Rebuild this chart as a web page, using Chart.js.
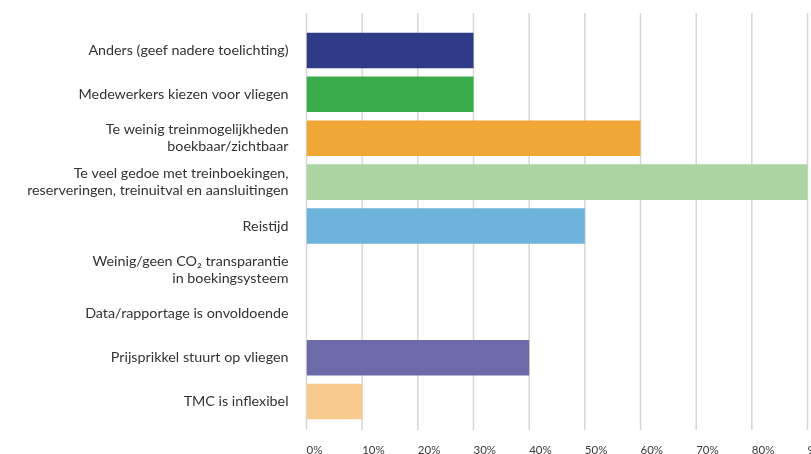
<!DOCTYPE html>
<html>
<head>
<meta charset="utf-8">
<script src="https://cdn.jsdelivr.net/npm/chart.js@4.4.1/dist/chart.umd.min.js"></script>
<style>
  html, body { margin: 0; padding: 0; background: #fff; overflow: hidden; }
  #wrap { width: 900px; height: 454px; }
</style>
</head>
<body>
<div id="wrap"><canvas id="myChart" width="900" height="454"></canvas></div>
<script>
// categories (multi-line labels as arrays)
var categories = [
  'Anders (geef nadere toelichting)',
  'Medewerkers kiezen voor vliegen',
  ['Te weinig treinmogelijkheden', 'boekbaar/zichtbaar'],
  ['Te veel gedoe met treinboekingen,', 'reserveringen, treinuitval en aansluitingen'],
  'Reistijd',
  ['Weinig/geen CO\u2082 transparantie', 'in boekingsysteem'],
  'Data/rapportage is onvoldoende',
  'Prijsprikkel stuurt op vliegen',
  'TMC is inflexibel'
];
var percentages = [30, 30, 60, 90, 50, 0, 0, 40, 10];
var barColors = ['#2f3b86', '#3aab4b', '#f0a735', '#acd4a2', '#6db3dc', '#6c6aa8', '#6c6aa8', '#6c6aa8', '#f7ca8d'];
var tickValues = [0, 10, 20, 30, 40, 50, 60, 70, 80, 90, 100];

// gridlines run a bit past the bars, top and bottom
var gridPlugin = {
  id: 'gridExt',
  beforeDatasetsDraw: function(chart) {
    var c = chart.ctx;
    var x = chart.scales.x;
    c.save();
    c.strokeStyle = '#d6d6d6';
    c.lineWidth = 1.5;
    tickValues.forEach(function(v) {
      var px = x.getPixelForValue(v);
      c.beginPath();
      c.moveTo(px, 13);
      c.lineTo(px, 430);
      c.stroke();
    });
    c.restore();
  }
};

var ctx = document.getElementById('myChart').getContext('2d');
var myChart = new Chart(ctx, {
  type: 'bar',
  data: {
    labels: categories,
    datasets: [{
      data: percentages,
      backgroundColor: barColors,
      borderWidth: 0,
      barPercentage: 0.81,
      categoryPercentage: 1
    }]
  },
  options: {
    indexAxis: 'y',
    responsive: false,
    animation: false,
    layout: { padding: { top: 28.5, right: 36.8, left: 0, bottom: 0 } },
    plugins: { legend: { display: false }, tooltip: { enabled: false } },
    scales: {
      x: {
        min: 0,
        max: 100,
        grid: { display: false, drawTicks: false },
        border: { display: false },
        afterFit: function(s) { s.height = 30.5; s.paddingLeft = 0; s.paddingRight = 0; },
        afterBuildTicks: function(s) { s.ticks = tickValues.map(function(v) { return { value: v }; }); },
        ticks: {
          align: 'start',
          autoSkip: false,
          maxRotation: 0,
          padding: 20,
          color: '#3a3a3a',
          font: { family: 'Lato', size: 11.5 },
          callback: function(v) { return v + '%'; }
        }
      },
      y: {
        grid: { display: false, drawTicks: false },
        border: { display: false },
        afterFit: function(s) { s.width = 306.5; },
        ticks: {
          padding: 18,
          color: '#333',
          font: { family: 'Lato', size: 14.3, lineHeight: 1.2 }
        }
      }
    }
  },
  plugins: [gridPlugin]
});
</script>
</body>
</html>
